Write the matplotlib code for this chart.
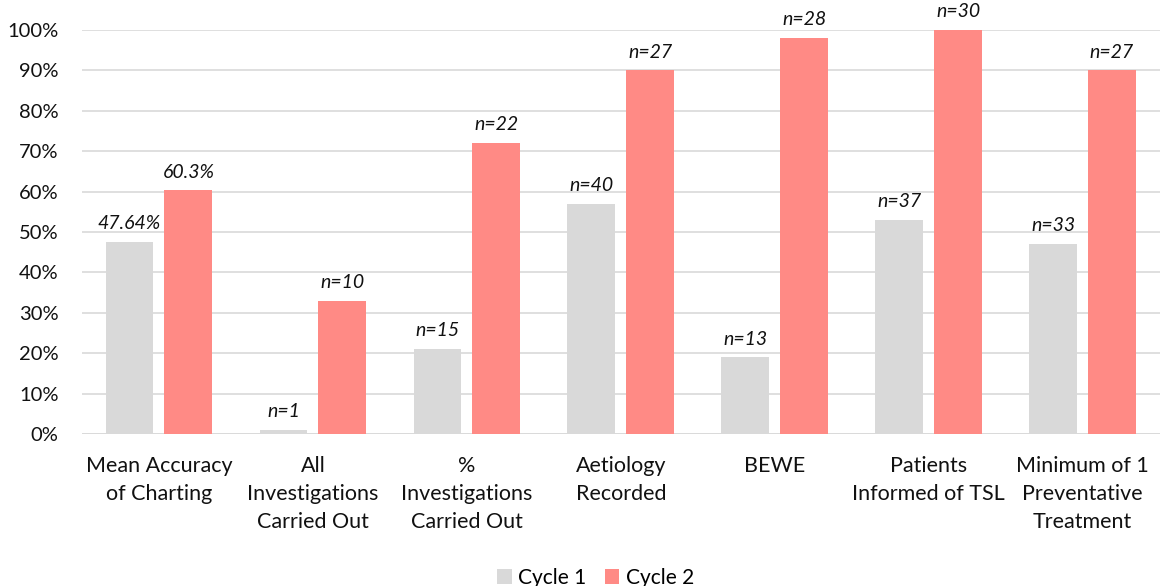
import numpy as np
import matplotlib.pyplot as plt

categories = ['Mean Accuracy\nof Charting', 'All\nInvestigations\nCarried Out',
              '%\nInvestigations\nCarried Out', 'Aetiology\nRecorded', 'BEWE',
              'Patients\nInformed of TSL', 'Minimum of 1\nPreventative\nTreatment']
cycle1 = [47.64, 1, 21, 57, 19, 53, 47]
cycle2 = [60.3, 33, 72, 90, 98, 100, 90]
labels1 = ['47.64%', 'n=1', 'n=15', 'n=40', 'n=13', 'n=37', 'n=33']
labels2 = ['60.3%', 'n=10', 'n=22', 'n=27', 'n=28', 'n=30', 'n=27']

plt.rcParams['font.family'] = ['Lato', 'DejaVu Sans']

fig = plt.figure(figsize=(11.63, 5.86), dpi=100)
ax = fig.add_axes([0.0705, 0.2594, 0.9265, 0.6894])

x = np.arange(len(categories))
w = 0.31
b1 = ax.bar(x - w/2 - 0.036, cycle1, w, color='#d9d9d9', label='Cycle 1', zorder=3)
b2 = ax.bar(x + w/2 + 0.036, cycle2, w, color='#ff8a85', label='Cycle 2', zorder=3)
ax.bar_label(b1, labels=labels1, padding=7, fontsize=14, style='italic', color='#111111')
ax.bar_label(b2, labels=labels2, padding=7, fontsize=14, style='italic', color='#111111')

ax.set_xlim(-0.5, len(categories) - 0.5)
ax.set_ylim(0, 100)
ax.set_yticks(np.arange(0, 101, 10))
ax.set_yticklabels([f'{v}%' for v in range(0, 101, 10)])
ax.set_xticks(x)
ax.set_xticklabels(categories, fontsize=15.5, linespacing=1.5)
ax.tick_params(axis='both', length=0, colors='#111111')
ax.tick_params(axis='x', pad=16, labelsize=15.5)
ax.tick_params(axis='y', pad=17, labelsize=14.5)
ax.yaxis.grid(True, color='#d9d9d9', linewidth=1.2, zorder=0)
for s in ax.spines.values():
    s.set_visible(False)
ax.axhline(0, color='#d9d9d9', linewidth=1.2, zorder=2)

fig.legend(loc='lower center', bbox_to_anchor=(0.512, -0.035), ncol=2, frameon=False,
           fontsize=15, handlelength=0.7, handleheight=0.7, handletextpad=0.3,
           columnspacing=0.9)

plt.savefig('out.png', dpi=100)
